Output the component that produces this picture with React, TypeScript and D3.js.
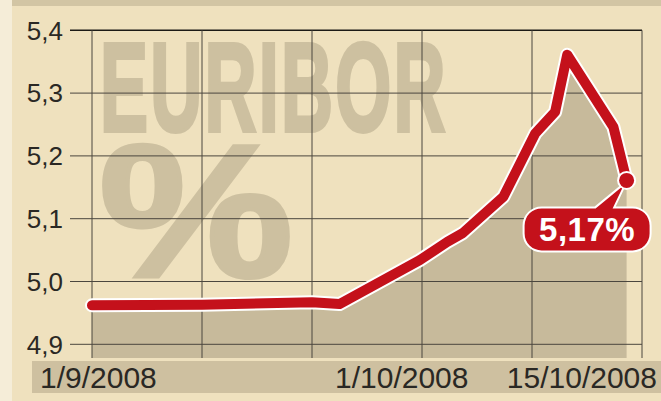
import React from "react";
import * as d3 from "d3";

const days = [0, 10, 20, 22.5, 29.8, 32.3, 33.7, 37.4, 40.3, 42.1, 43.2, 47.4, 48.6];
const rates = [4.962, 4.963, 4.967, 4.964, 5.034, 5.063, 5.077, 5.135, 5.236, 5.27, 5.361, 5.246, 5.161];
const yTicks = [4.9, 5.0, 5.1, 5.2, 5.3, 5.4];
const xGridDays = [0, 10, 20, 30, 40, 50];
const xLabels = ["1/9/2008", "1/10/2008", "15/10/2008"];
const lastLabel = "5,17%";

const W = 661;
const H = 401;

export default function App() {
  const x = d3.scaleLinear().domain([0, 50]).range([92, 642]);
  const y = d3.scaleLinear().domain([4.9, 5.4]).range([344.3, 30.3]);
  const plotBottom = 358;
  const data = days.map((d, i) => ({ d, v: rates[i] }));

  const line = d3
    .line<{ d: number; v: number }>()
    .x((p) => x(p.d))
    .y((p) => y(p.v))
    .curve(d3.curveLinear);
  const area = d3
    .area<{ d: number; v: number }>()
    .x((p) => x(p.d))
    .y0(plotBottom)
    .y1((p) => y(p.v))
    .curve(d3.curveLinear);

  const fmt = (v: number) => d3.format(".1f")(v).replace(".", ",");
  const last = data[data.length - 1];
  const lx = x(last.d);
  const ly = y(last.v);

  // callout geometry relative to the last point
  const cx0 = lx - 102;
  const cx1 = lx + 23;
  const cy0 = ly + 28;
  const cy1 = ly + 70;
  const r = 17;
  const calloutPath =
    `M${cx0 + r},${cy0} L${lx - 31},${cy0} L${lx - 3},${ly + 5} L${lx - 14},${cy0} L${cx1 - r},${cy0} ` +
    `A${r},${r} 0 0 1 ${cx1},${cy0 + r} L${cx1},${cy1 - r} A${r},${r} 0 0 1 ${cx1 - r},${cy1} ` +
    `L${cx0 + r},${cy1} A${r},${r} 0 0 1 ${cx0},${cy1 - r} L${cx0},${cy0 + r} A${r},${r} 0 0 1 ${cx0 + r},${cy0} Z`;

  const sans = "'Liberation Sans', Arial, sans-serif";
  const wm = "#CDC0A0";

  return (
    <svg
      width={W}
      height={H}
      style={{ position: "absolute", left: 0, top: 0, display: "block" }}
    >
      <rect x={0} y={0} width={W} height={H} fill="#EFE1BE" />
      <rect x={0} y={0} width={12} height={H} fill="#F5EDD8" />
      <rect x={12} y={0} width={W - 12} height={6} fill="#D2C5A4" />

      {/* watermark */}
      <g transform="translate(100,131) scale(0.567,1)">
        <text
          x={0}
          y={0}
          fontFamily={sans}
          fontWeight={700}
          fontSize={127}
          fill={wm}
          stroke={wm}
          strokeWidth={4}
          letterSpacing={4}
        >
          EURIBOR
        </text>
      </g>
      <g transform="translate(99,277) scale(1.15,1)">
        <text
          x={0}
          y={0}
          fontFamily={sans}
          fontWeight={700}
          fontSize={190}
          fill={wm}
          stroke={wm}
          strokeWidth={4}
        >
          %
        </text>
      </g>

      {/* area */}
      <path d={area(data) || ""} fill="#C7BA9B" />

      {/* grid */}
      {yTicks.map((t) => (
        <line
          key={"h" + t}
          x1={70}
          x2={x(50)}
          y1={y(t)}
          y2={y(t)}
          stroke={t === 5.4 ? "#1c1a16" : "#4a463e"}
          strokeWidth={t === 5.4 ? 1.4 : 1}
        />
      ))}
      {xGridDays.map((d) => (
        <line
          key={"v" + d}
          x1={x(d)}
          x2={x(d)}
          y1={y(5.4)}
          y2={plotBottom}
          stroke="#4a463e"
          strokeWidth={1}
        />
      ))}

      {/* y labels */}
      {yTicks.map((t) => (
        <text
          key={"yl" + t}
          x={63}
          y={y(t)}
          dy="0.36em"
          textAnchor="end"
          fontFamily={sans}
          fontSize={26}
          fill="#2a2824"
        >
          {fmt(t)}
        </text>
      ))}

      {/* x label band */}
      <rect x={32} y={361} width={W - 32} height={32} fill="#CEC0A0" />
      <text x={40} y={388} fontFamily={sans} fontSize={30} fill="#2a2824">
        {xLabels[0]}
      </text>
      <text x={335} y={388} fontFamily={sans} fontSize={30} fill="#2a2824">
        {xLabels[1]}
      </text>
      <text x={657} y={388} textAnchor="end" fontFamily={sans} fontSize={30} fill="#2a2824">
        {xLabels[2]}
      </text>

      {/* line */}
      <path
        d={line(data) || ""}
        fill="none"
        stroke="#ffffff"
        strokeWidth={14}
        strokeLinecap="round"
        strokeLinejoin="round"
      />
      <path
        d={line(data) || ""}
        fill="none"
        stroke="#C4111B"
        strokeWidth={10}
        strokeLinecap="round"
        strokeLinejoin="round"
      />

      {/* callout */}
      <path d={calloutPath} fill="#C4111B" stroke="#ffffff" strokeWidth={4} strokeLinejoin="round" />
      <path d={calloutPath} fill="#C4111B" />
      <circle cx={lx} cy={ly} r={9.5} fill="#ffffff" />
      <circle cx={lx} cy={ly} r={7.5} fill="#C4111B" />
      <text
        x={(cx0 + cx1) / 2}
        y={cy1 - 9}
        textAnchor="middle"
        fontFamily={sans}
        fontWeight={700}
        fontSize={33}
        fill="#ffffff"
        letterSpacing={0.5}
      >
        {lastLabel}
      </text>
    </svg>
  );
}
